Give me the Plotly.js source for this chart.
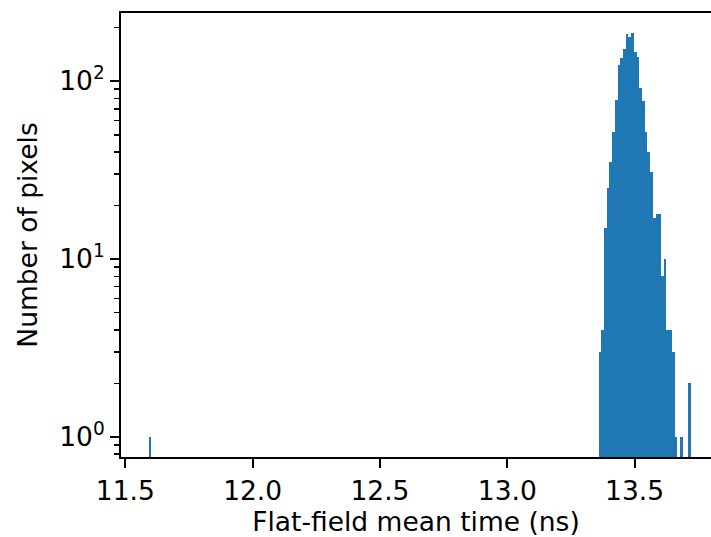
<!DOCTYPE html>
<html>
<head>
<meta charset="utf-8">
<script src="https://cdn.plot.ly/plotly-3.0.1.min.js"></script>
<style>
html,body{margin:0;padding:0;background:#ffffff;}
#chart{width:711px;height:537px;}
</style>
</head>
<body>
<div id="chart"></div>
<script>
// Histogram bins (centre of each non-empty bin, ns)
const binCenters = [
  11.5968,
  13.3639, 13.3745, 13.3852, 13.3958, 13.4065, 13.4171, 13.4278, 13.4384,
  13.4491, 13.4597, 13.4704, 13.4810, 13.4917, 13.5023, 13.5130, 13.5236,
  13.5343, 13.5449, 13.5556, 13.5662, 13.5769, 13.5875, 13.5982, 13.6088,
  13.6195, 13.6301, 13.6408, 13.6514, 13.6620, 13.6833, 13.7153
];
// Number of pixels in each of those bins
const pixelCounts = [
  1,
  3, 4, 15, 25, 35, 52, 78, 123,
  135, 151, 184, 177, 186, 145, 136, 92,
  77, 52, 40, 31, 17, 18, 18, 8,
  10, 4, 4, 3, 1, 1, 2
];
const xTickVals = [11.5, 12.0, 12.5, 13.0, 13.5];
const xTickText = ['11.5', '12.0', '12.5', '13.0', '13.5'];
const yTickVals = [1, 10, 100];
const yTickText = ['10<sup>0</sup>', '10<sup>1</sup>', '10<sup>2</sup>'];
const yMinorVals = [0.8, 0.9, 2, 3, 4, 5, 6, 7, 8, 9, 20, 30, 40, 50, 60, 70, 80, 90, 200];

const binWidth = 0.010645;
const FONT = 'DejaVu Sans, sans-serif';
const FS = 26.5;

const trace = {
  type: 'bar',
  x: binCenters,
  y: pixelCounts,
  width: binCenters.map(() => binWidth),
  marker: {color: '#1f77b4', line: {width: 0}},
  hoverinfo: 'x+y'
};

const layout = {
  width: 711,
  height: 537,
  margin: {l: 121, r: 0, t: 13, b: 80, pad: 0},
  paper_bgcolor: '#ffffff',
  plot_bgcolor: '#ffffff',
  showlegend: false,
  bargap: 0,
  font: {family: FONT, size: FS, color: '#000000'},
  xaxis: {
    range: [11.483, 13.800],
    tickmode: 'array',
    tickvals: xTickVals,
    ticktext: xTickText,
    ticks: 'outside',
    ticklen: 9,
    tickwidth: 2,
    tickcolor: '#000000',
    showline: true,
    linewidth: 2,
    linecolor: '#000000',
    mirror: true,
    showgrid: false,
    zeroline: false,
    tickfont: {family: FONT, size: FS, color: '#000000'},
    title: {text: 'Flat-field mean time (ns)', font: {family: FONT, size: FS, color: '#000000'}, standoff: 10},
    automargin: false
  },
  yaxis: {
    type: 'log',
    range: [-0.1125, 2.383],
    tickmode: 'array',
    tickvals: yTickVals,
    ticktext: yTickText,
    ticks: 'outside',
    ticklen: 9,
    tickwidth: 2,
    tickcolor: '#000000',
    minor: {
      tickmode: 'array',
      tickvals: yMinorVals,
      ticks: 'outside',
      ticklen: 5,
      tickwidth: 1.6,
      tickcolor: '#000000',
      showgrid: false
    },
    showline: true,
    linewidth: 2,
    linecolor: '#000000',
    showgrid: false,
    zeroline: false,
    tickfont: {family: FONT, size: FS, color: '#000000'},
    title: {text: 'Number of pixels', font: {family: FONT, size: FS, color: '#000000'}, standoff: 14},
    automargin: false
  }
};

Plotly.newPlot('chart', [trace], layout, {staticPlot: true, displayModeBar: false});
</script>
</body>
</html>
